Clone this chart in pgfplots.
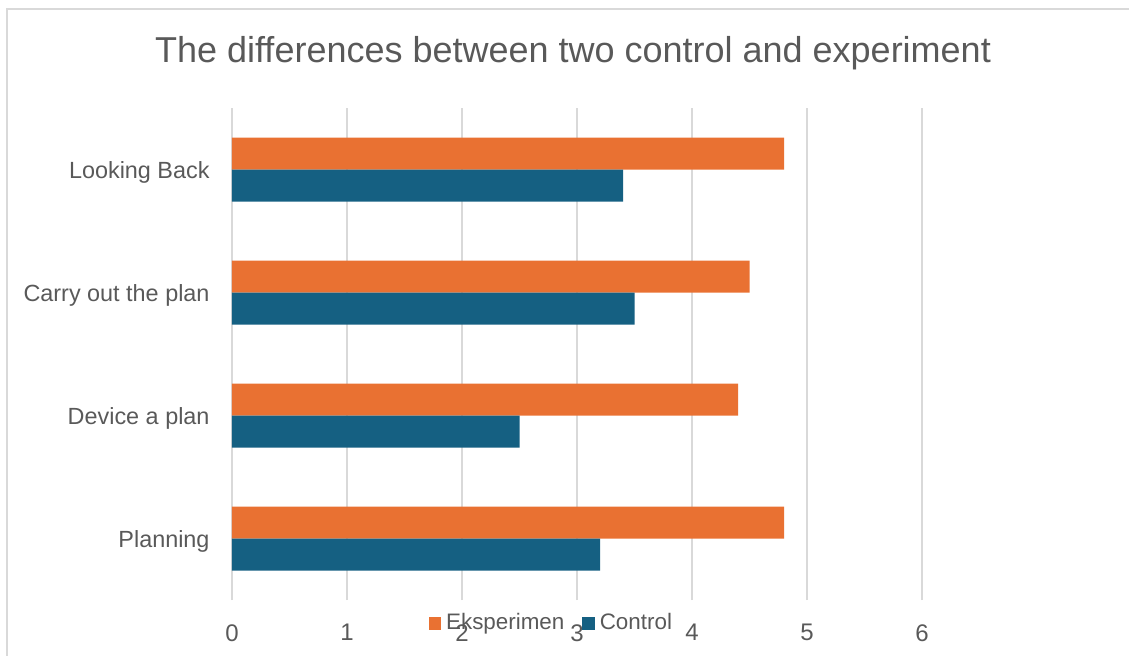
\documentclass[border=0pt]{standalone}
\usepackage{pgfplots}
\pgfplotsset{compat=1.18}
\usepackage{fontspec}
\setmainfont{Liberation Sans}
\definecolor{ora}{HTML}{E97132}
\definecolor{blu}{HTML}{156082}
\definecolor{txt}{HTML}{595959}
\definecolor{grd}{HTML}{D9D9D9}
\begin{document}
\begin{tikzpicture}[x=0.5pt,y=0.5pt]
\useasboundingbox (0,0) rectangle (1129,655);
\draw[grd, line width=1pt] (7,-10) rectangle (1140,646);
\node[txt, font=\fontsize{18}{21}\selectfont] at (573,602) {The differences between two control and experiment};
\begin{axis}[
  at={(116pt,27.5pt)}, anchor=south west,
  scale only axis, width=345pt, height=246pt,
  xmin=0, xmax=6, ymin=-0.5, ymax=3.5,
  axis line style={draw=none},
  major tick length=0pt,
  xmajorgrids, grid style={grd, line width=0.8pt},
  xtick={0,1,2,3,4,5,6},
  ytick={0,1,2,3},
  yticklabels={Planning, Device a plan, Carry out the plan, Looking Back},
  /pgf/number format/assume math mode=true,
  xticklabel style={text=txt, font=\fontsize{12}{14}\selectfont, yshift=-8.6pt},
  yticklabel style={text=txt, font=\fontsize{11.7}{14}\selectfont, xshift=-7.7pt, yshift=-1.5pt},
  legend columns=2,
  legend style={draw=none, fill=none, at={(0.465,-0.047)}, anchor=center,
    font=\fontsize{11.2}{13}\selectfont, text=txt,
    /tikz/every even column/.append style={column sep=6.5pt}},
  legend image code/.code={\fill[#1] (0pt,-3.2pt) rectangle (6.2pt,3.2pt);},
  legend cell align=left,
  legend style={nodes={inner xsep=2.5pt}},
]
\addplot[xbar, bar width=16pt, bar shift=8pt, fill=ora, draw=none]
  coordinates {(4.8,0) (4.4,1) (4.5,2) (4.8,3)};
\addplot[xbar, bar width=16pt, bar shift=-8pt, fill=blu, draw=none]
  coordinates {(3.2,0) (2.5,1) (3.5,2) (3.4,3)};
\legend{Eksperimen, Control}
\end{axis}
\end{tikzpicture}
\end{document}
